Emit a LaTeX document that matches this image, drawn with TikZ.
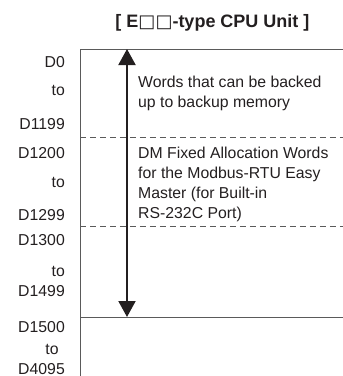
\documentclass[tikz,border=0pt]{standalone}
\usepackage{fontspec}
\setmainfont{Liberation Sans}
\newfontfamily\symfont{DejaVu Sans}
\usetikzlibrary{arrows.meta}
\definecolor{stroke}{HTML}{231F20}
\definecolor{rule}{HTML}{5A5A5A}
\definecolor{fgbody}{HTML}{231F20}

\begin{document}
\begin{tikzpicture}[
  x=1pt, y=-1pt,
  font=\fontsize{15.8}{20}\selectfont,
  every node/.append style={text=fgbody},
  frame/.style={draw=rule, line width=1pt},
  sep/.style={draw=rule, line width=1pt, dash pattern=on 6pt off 4pt},
  addr/.style={anchor=base east, inner sep=0pt},
  desc/.style={anchor=north west, align=left, inner sep=0pt},
  span/.style={draw=stroke, line width=2pt, {Triangle[length=16pt,width=17pt]}-{Triangle[length=16pt,width=17pt]}},
]
\useasboundingbox (0,0) rectangle (343,376);
% title
\node[font=\fontsize{18}{20}\selectfont\bfseries] (title) at (212.5,23) {[ E{\symfont□□}-type CPU Unit ]};
% memory frame
\draw[frame] (343,49) -- (80,49) -- (80,376);
\draw[sep] (80,137) -- (343,137);
\draw[sep] (80,226) -- (343,226);
\draw[frame] (80,317) -- (343,317);
% address labels
\node[addr] (d0) at (65,67.5) {D0};
\node[addr] (to1) at (65,95.5) {to};
\node[addr] (d1199) at (65,129.5) {D1199};
\node[addr] (d1200) at (65,158.5) {D1200};
\node[addr] (to2) at (65,187.5) {to};
\node[addr] (d1299) at (65,220.5) {D1299};
\node[addr] (d1300) at (65,245.5) {D1300};
\node[addr] (to3) at (65,276.5) {to};
\node[addr] (d1499) at (65,296) {D1499};
\node[addr] (d1500) at (65,332) {D1500};
\node[anchor=base, inner sep=0pt] (to4) at (52,354) {to};
\node[addr] (d4095) at (65,374) {D4095};
% area descriptions
\node[desc] (backup) at (138,76) {Words that can be backed\\up to backup memory};
\node[desc] (modbus) at (138,147) {DM Fixed Allocation Words\\for the Modbus-RTU Easy\\Master (for Built-in\\RS-232C Port)};
% backed-up range
\coordinate (rtop) at (127,49);
\coordinate (rbot) at (127,317);
\draw[span] (rtop) -- (rbot);
\end{tikzpicture}
\end{document}
